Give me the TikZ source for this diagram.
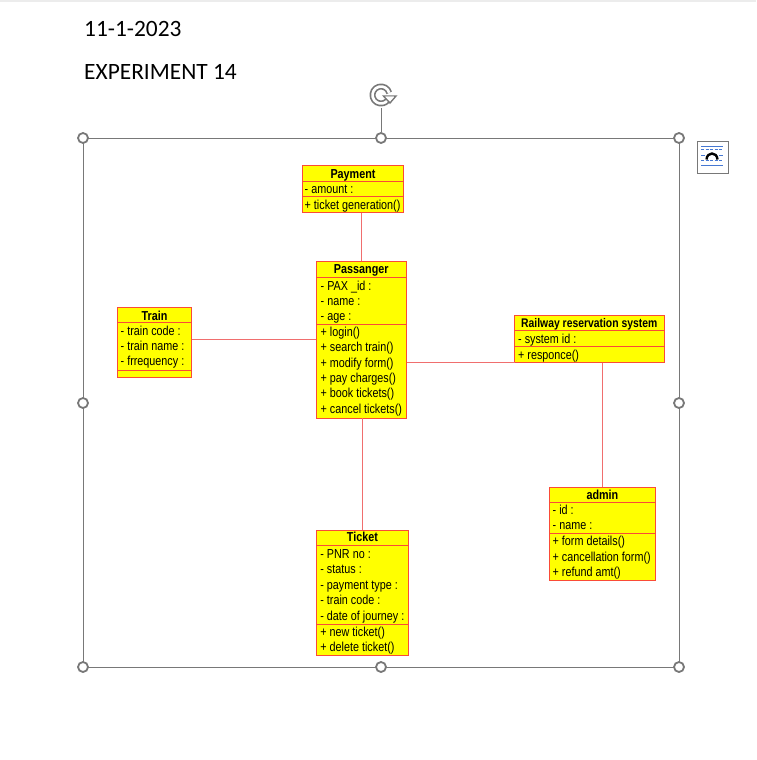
\documentclass[tikz,border=0pt]{standalone}
\usepackage{fontspec}
\setmainfont{Carlito}
\newfontfamily\umlf[FakeStretch=0.83]{Liberation Sans}
\definecolor{boxred}{RGB}{250,75,55}
\definecolor{connred}{RGB}{240,110,110}
\definecolor{umlyellow}{RGB}{255,255,0}
\definecolor{framegray}{RGB}{120,120,120}
\definecolor{iconblue}{RGB}{70,120,210}
\tikzset{
  classbox/.style={draw=boxred, fill=umlyellow, line width=0.9pt, anchor=north west, inner sep=0pt, outer sep=0pt},
  divider/.style={draw=boxred, line width=0.9pt},
  conn/.style={draw=connred, line width=0.8pt},
  ttl/.style={font=\umlf\bfseries\fontsize{13}{15}\selectfont, anchor=base, inner sep=0pt},
  txt/.style={font=\umlf\fontsize{13}{15}\selectfont, anchor=base west, inner sep=0pt},
  hdr/.style={font=\fontsize{23.4}{27}\selectfont, anchor=base west, inner sep=0pt},
  frame/.style={draw=framegray, line width=0.9pt},
  handle/.style={draw=framegray, fill=white, line width=1.8pt, circle, minimum size=10pt, inner sep=0pt}
}
\begin{document}
\begin{tikzpicture}[x=1pt,y=-1pt]
\useasboundingbox (0,0) rectangle (756,760);
\fill[white] (0,0) rectangle (756,760);
\fill[gray!15] (0,0) rectangle (756,2.5);

% header
\node[hdr] (date) at (84,37) {11-1-2023};
\node[hdr] (exp) at (84,80) {EXPERIMENT 14};

% selection frame
\draw[frame] (83,138) rectangle (679,667);
\coordinate (rotbase) at (381,108);
\node[handle] (hTL) at (83,138) {};
\node[handle] (hTM) at (381,138) {};
\node[handle] (hTR) at (679,138) {};
\node[handle] (hML) at (83,403) {};
\node[handle] (hMR) at (679,403) {};
\node[handle] (hBL) at (83,667) {};
\node[handle] (hBM) at (381,667) {};
\node[handle] (hBR) at (679,667) {};
\draw[frame] (hTM) -- (rotbase);

% rotate icon
\begin{scope}[shift={(381,95)}, y=1pt]
  \draw[line width=6pt, draw=framegray] (15:8.5) arc (15:320:8.5);
  \draw[line width=2.6pt, draw=white] (15:8.5) arc (15:320:8.5);
  \draw[line width=1.4pt, draw=framegray, fill=white, line join=miter]
     (2.5,-1) -- (15,-1) -- (9,-8) -- cycle;
  \fill[white] (4,-1.5) -- (13,-1.5) -- (9,-6) -- cycle;
\end{scope}

% layout-options icon
\draw[draw=framegray, fill=white, line width=0.9pt] (697,141) rectangle (728,173);
\draw[iconblue, line width=1pt] (701,146) -- (723,146);
\draw[iconblue, line width=1pt, dash pattern=on 3pt off 1.5pt] (701,149) -- (723,149);
\draw[iconblue, line width=1pt] (701,155) -- (705,155) (719,155) -- (723,155);
\draw[iconblue, line width=1pt, dash pattern=on 3pt off 1.5pt] (701,160) -- (723,160);
\draw[iconblue, line width=1pt] (701,165) -- (723,165);
\draw[black, line width=2.4pt] (706.5,159.5) .. controls (707,151.5) and (717,151.5) .. (717.5,159.5);

% ---------- Payment ----------
\node[classbox, minimum width=101pt, minimum height=47.5pt] (pay) at (302.5,165) {};
\draw[divider] (pay.west |- 0,181.5) -- (pay.east |- 0,181.5);
\draw[divider] (pay.west |- 0,196.8) -- (pay.east |- 0,196.8);
\node[ttl] (payT) at (pay.center |- 0,178) {Payment};
\node[txt] (payA1) at (304.5,193) {- amount :};
\node[txt] (payM1) at (304.5,209) {+ ticket generation()};

% ---------- Passanger ----------
\node[classbox, minimum width=90.5pt, minimum height=157pt] (pas) at (316,261) {};
\draw[divider] (pas.west |- 0,277) -- (pas.east |- 0,277);
\draw[divider] (pas.west |- 0,324) -- (pas.east |- 0,324);
\node[ttl] (pasT) at (pas.center |- 0,273.3) {Passanger};
\foreach \yy/\tt [count=\i] in {290/{- PAX \_id :}, 305/{- name :}, 320/{- age :}}
  \node[txt] (pasA\i) at (320.5,\yy) {\tt};
\foreach \yy/\tt [count=\i] in {336.7/{+ login()}, 351.9/{+ search train()}, 367.2/{+ modify form()},
   382.5/{+ pay charges()}, 397.8/{+ book tickets()}, 413.1/{+ cancel tickets()}}
  \node[txt] (pasM\i) at (320.5,\yy) {\tt};

% ---------- Train ----------
\node[classbox, minimum width=74pt, minimum height=69.5pt] (train) at (117.5,307.5) {};
\draw[divider] (train.west |- 0,322.7) -- (train.east |- 0,322.7);
\draw[divider] (train.west |- 0,370) -- (train.east |- 0,370);
\node[ttl] (trainT) at (train.center |- 0,320) {Train};
\foreach \yy/\tt [count=\i] in {335.7/{- train code :}, 350.7/{- train name :}, 365.7/{- frrequency :}}
  \node[txt] (trainA\i) at (120.5,\yy) {\tt};

% ---------- Railway reservation system ----------
\node[classbox, minimum width=149.5pt, minimum height=47.2pt] (rail) at (514.5,315.3) {};
\draw[divider] (rail.west |- 0,330.7) -- (rail.east |- 0,330.7);
\draw[divider] (rail.west |- 0,346.7) -- (rail.east |- 0,346.7);
\node[ttl, font=\umlf\bfseries\fontsize{12.5}{14}\selectfont] (railT) at (rail.center |- 0,327.3) {Railway reservation system};
\node[txt] (railA1) at (518,343) {- system id :};
\node[txt] (railM1) at (518,359) {+ responce()};

% ---------- admin ----------
\node[classbox, minimum width=106.2pt, minimum height=92.7pt] (admin) at (549.3,487.3) {};
\draw[divider] (admin.west |- 0,502) -- (admin.east |- 0,502);
\draw[divider] (admin.west |- 0,533) -- (admin.east |- 0,533);
\node[ttl] (adminT) at (admin.center |- 0,499) {admin};
\foreach \yy/\tt [count=\i] in {514.8/{- id :}, 529.6/{- name :}}
  \node[txt] (adminA\i) at (552.5,\yy) {\tt};
\foreach \yy/\tt [count=\i] in {545.5/{+ form details()}, 561.2/{+ cancellation form()}, 576.6/{+ refund amt()}}
  \node[txt] (adminM\i) at (552.5,\yy) {\tt};

% ---------- Ticket ----------
\node[classbox, minimum width=91.3pt, minimum height=125pt] (tkt) at (316.7,530) {};
\draw[divider] (tkt.west |- 0,545) -- (tkt.east |- 0,545);
\draw[divider] (tkt.west |- 0,624) -- (tkt.east |- 0,624);
\node[ttl] (tktT) at (tkt.center |- 0,541.7) {Ticket};
\foreach \yy/\tt [count=\i] in {558/{- PNR no :}, 573.5/{- status :}, 589/{- payment type :},
   604.5/{- train code :}, 620/{- date of journey :}}
  \node[txt] (tktA\i) at (320.2,\yy) {\tt};
\foreach \yy/\tt [count=\i] in {636.2/{+ new ticket()}, 651.7/{+ delete ticket()}}
  \node[txt] (tktM\i) at (320.2,\yy) {\tt};

% ---------- connectors ----------
\draw[conn] (pay.south -| pas.north) -- (pas.north);
\draw[conn] (train.east |- 0,339) -- (pas.west |- 0,339);
\draw[conn] (pas.east |- rail.south) -- (rail.south west);
\draw[conn] (rail.south -| admin.north) -- (admin.north);
\draw[conn] (pas.south -| tkt.north) -- (tkt.north);
\end{tikzpicture}
\end{document}
